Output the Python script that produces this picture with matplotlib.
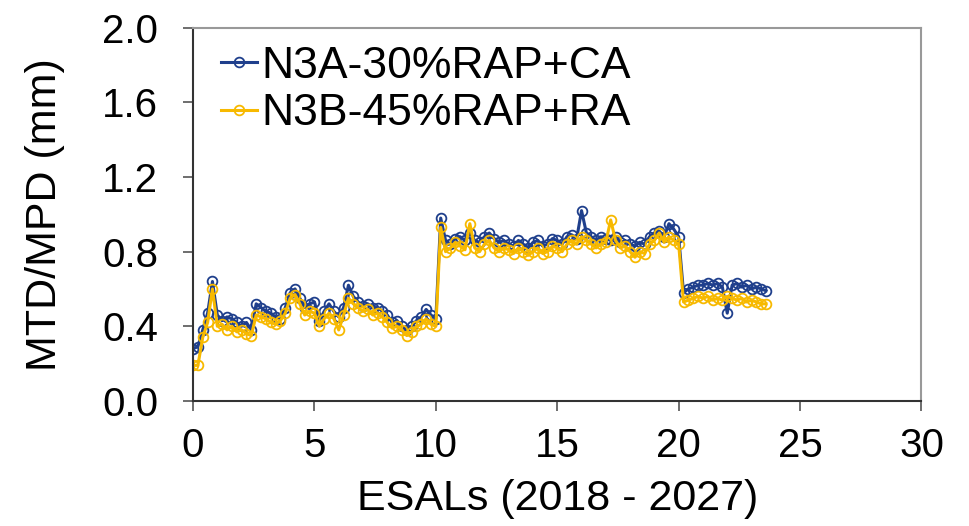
import matplotlib.pyplot as plt

plt.rcParams['font.family'] = ['Liberation Sans', 'DejaVu Sans']

# ESALs (millions) for each texture reading
esals = [
    0.0, 0.2, 0.4, 0.6, 0.8, 1.0, 1.2, 1.4, 1.6, 1.8,
    2.0, 2.2, 2.4, 2.6, 2.8, 3.0, 3.2, 3.4, 3.6, 3.8,
    4.0, 4.2, 4.4, 4.6, 4.8, 5.0, 5.2, 5.4, 5.6, 5.8,
    6.0, 6.2, 6.4, 6.6, 6.8, 7.0, 7.2, 7.4, 7.6, 7.8,
    8.0, 8.2, 8.4, 8.6, 8.8, 9.0, 9.2, 9.4, 9.6, 9.8,
    10.0, 10.2, 10.4, 10.6, 10.8, 11.0, 11.2, 11.4, 11.6, 11.8,
    12.0, 12.2, 12.4, 12.6, 12.8, 13.0, 13.2, 13.4, 13.6, 13.8,
    14.0, 14.2, 14.4, 14.6, 14.8, 15.0, 15.2, 15.4, 15.6, 15.8,
    16.0, 16.2, 16.4, 16.6, 16.8, 17.0, 17.2, 17.4, 17.6, 17.8,
    18.0, 18.2, 18.4, 18.6, 18.8, 19.0, 19.2, 19.4, 19.6, 19.8,
    20.0, 20.2, 20.4, 20.6, 20.8, 21.0, 21.2, 21.4, 21.6, 21.8,
    22.0, 22.2, 22.4, 22.6, 22.8, 23.0, 23.2, 23.4, 23.6,
]

n3a = [
    0.28, 0.29, 0.38, 0.47, 0.64, 0.46, 0.43, 0.45, 0.44, 0.42,
    0.40, 0.42, 0.38, 0.52, 0.50, 0.48, 0.47, 0.45, 0.44, 0.50,
    0.58, 0.60, 0.55, 0.50, 0.52, 0.53, 0.43, 0.48, 0.52, 0.48,
    0.45, 0.50, 0.62, 0.56, 0.53, 0.51, 0.52, 0.50, 0.50, 0.48,
    0.46, 0.42, 0.43, 0.40, 0.38, 0.40, 0.43, 0.45, 0.49, 0.46,
    0.44, 0.98, 0.86, 0.84, 0.87, 0.88, 0.86, 0.90, 0.86, 0.85,
    0.88, 0.90, 0.87, 0.85, 0.86, 0.84, 0.83, 0.86, 0.84, 0.82,
    0.85, 0.86, 0.83, 0.84, 0.87, 0.86, 0.84, 0.88, 0.89, 0.87,
    1.02, 0.90, 0.88, 0.86, 0.88, 0.87, 0.86, 0.88, 0.85, 0.86,
    0.84, 0.83, 0.85, 0.84, 0.88, 0.90, 0.91, 0.88, 0.95, 0.92,
    0.88, 0.58, 0.60, 0.61, 0.62, 0.62, 0.63, 0.62, 0.63, 0.61,
    0.47, 0.62, 0.63, 0.61, 0.62, 0.60, 0.61, 0.60, 0.59,
]

n3b = [
    0.19, 0.19, 0.34, 0.42, 0.60, 0.40, 0.41, 0.38, 0.40, 0.37,
    0.38, 0.36, 0.35, 0.46, 0.45, 0.44, 0.42, 0.41, 0.43, 0.47,
    0.55, 0.57, 0.52, 0.46, 0.48, 0.47, 0.40, 0.44, 0.47, 0.44,
    0.38, 0.46, 0.55, 0.52, 0.50, 0.48, 0.49, 0.46, 0.47, 0.45,
    0.42, 0.39, 0.40, 0.38, 0.35, 0.37, 0.40, 0.41, 0.44, 0.41,
    0.40, 0.93, 0.80, 0.82, 0.85, 0.83, 0.81, 0.95, 0.82, 0.80,
    0.84, 0.86, 0.82, 0.80, 0.82, 0.81, 0.79, 0.82, 0.80, 0.78,
    0.80, 0.82, 0.79, 0.80, 0.83, 0.82, 0.80, 0.84, 0.86, 0.84,
    0.88, 0.86, 0.84, 0.82, 0.84, 0.85, 0.97, 0.86, 0.82, 0.83,
    0.80, 0.77, 0.80, 0.79, 0.84, 0.86, 0.90, 0.85, 0.88, 0.86,
    0.84, 0.53, 0.54, 0.55, 0.56, 0.55, 0.56, 0.54, 0.55, 0.54,
    0.56, 0.55, 0.54, 0.55, 0.53, 0.54, 0.53, 0.52, 0.52,
]

fig = plt.figure(figsize=(9.7, 5.26), dpi=100)
ax = fig.add_axes([0.199, 0.238, 0.751, 0.709])

ax.plot(esals, n3a, color='#1f3f8c', lw=2.2, marker='o', ms=7,
        mfc='none', mew=1.3, label='N3A-30%RAP+CA')
ax.plot(esals, n3b, color='#f7b900', lw=2.2, marker='o', ms=7,
        mfc='none', mew=1.3, label='N3B-45%RAP+RA')

ax.set_xlim(0, 30)
ax.set_ylim(0, 2.0)
ax.set_xticks([0, 5, 10, 15, 20, 25, 30])
ax.set_yticks([0.0, 0.4, 0.8, 1.2, 1.6, 2.0])
ax.set_yticklabels(['0.0', '0.4', '0.8', '1.2', '1.6', '2.0'])
ax.tick_params(labelsize=29, direction='out', length=7, width=1.2,
               color='#555555')
ax.tick_params(axis='y', pad=18)
ax.tick_params(axis='x', pad=12)

for s in ['left', 'bottom']:
    ax.spines[s].set_color('#333333')
    ax.spines[s].set_linewidth(1.5)
for s in ['top', 'right']:
    ax.spines[s].set_color('#999999')
    ax.spines[s].set_linewidth(1.5)

ax.set_xlabel('ESALs (2018 - 2027)', fontsize=31, labelpad=10)
ax.set_ylabel('MTD/MPD (mm)', fontsize=31, labelpad=27)

ax.legend(loc='upper left', frameon=False, fontsize=32, handlelength=0.8,
          handletextpad=0.1, borderaxespad=0.2, borderpad=0.2,
          labelspacing=0.15, bbox_to_anchor=(0.014, 1.0))

fig.savefig('out.png', dpi=100)
